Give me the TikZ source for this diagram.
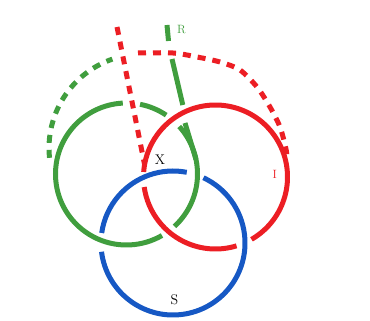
\documentclass[tikz,border=0pt]{standalone}
\usetikzlibrary{calc}
\definecolor{ringgreen}{RGB}{64,158,62}
\definecolor{ringred}{RGB}{236,30,36}
\definecolor{ringblue}{RGB}{22,88,196}

\begin{document}
\begin{tikzpicture}[x=1pt,y=1pt,
    ring/.style={line width=5pt},
    dashring/.style={line width=5pt,dash pattern=on 8pt off 7pt},
    ringlabel/.style={inner sep=0pt,font=\fontsize{13}{13}\selectfont}]
  \useasboundingbox (0,0) rectangle (370,321);
  \coordinate (G) at (126.5,147);
  \coordinate (Rc) at (215.5,144);
  \coordinate (B) at (173,78);
  \coordinate (Gd) at (143,173);

  % the three rings, broken where they pass under
  \foreach \a/\b in {-47.5/42,56/79,93/300} {
    \draw[ring,ringgreen] ($(G)+(\a:71)$) arc[start angle=\a,end angle=\b,radius=71];
  }
  \foreach \a/\b in {-60/176,188/287} {
    \draw[ring,ringred] ($(Rc)+(\a:72)$) arc[start angle=\a,end angle=\b,radius=72];
  }
  \foreach \a/\b in {-173/65,79/172} {
    \draw[ring,ringblue] ($(B)+(\a:72)$) arc[start angle=\a,end angle=\b,radius=72];
  }

  % green strand R
  \draw[ring,ringgreen] (167,296) -- (168.5,280);
  \draw[ring,ringgreen] (172,262) -- (182.8,216);
  \draw[ring,ringgreen] (185,198) -- ($(G)+(12:71)$);

  % dashed parts
  \draw[dashring,ringgreen] ($(Gd)+(186:94)$) arc[start angle=186,end angle=109,radius=94];
  \draw[dashring,ringred] (117,294) -- ($(Rc)+(170:72)$);
  \draw[dashring,ringred] plot[smooth,tension=.5]
    coordinates {(138,268) (173,268) (197,264) (220,259) (240,251) (257,234)
                 (270,214) (280,194) (286,172) (287,163)};

  \node[ringlabel,text=ringgreen,font=\fontsize{12}{12}\selectfont] (labR) at (181.5,291.5) {R};
  \node[ringlabel,font=\fontsize{14}{14}\selectfont] (labX) at (160,161.5) {X};
  \node[ringlabel,text=ringred,font=\fontsize{12}{12}\selectfont] (labI) at (274.7,147) {I};
  \node[ringlabel,font=\fontsize{14}{14}\selectfont] (labS) at (174.5,21) {S};
\end{tikzpicture}
\end{document}
